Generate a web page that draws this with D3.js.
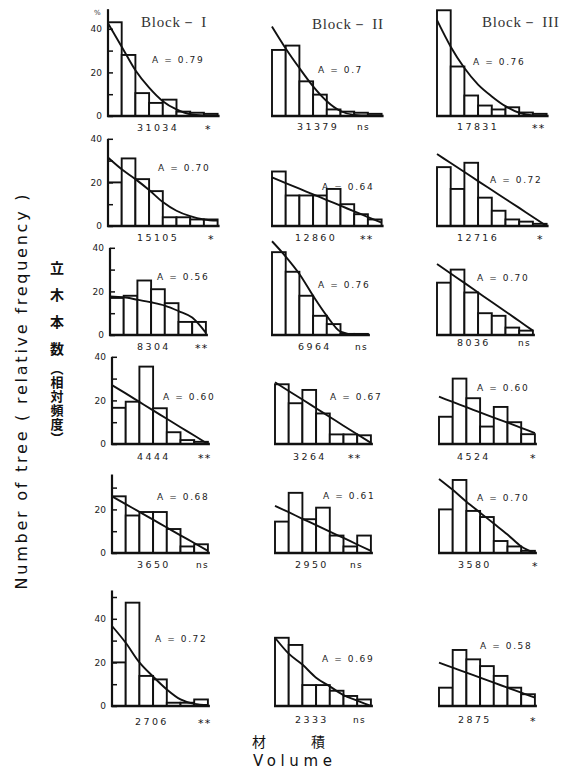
<!DOCTYPE html>
<html>
<head>
<meta charset="utf-8">
<script src="https://cdn.jsdelivr.net/npm/d3@7"></script>
<style>
  html, body { margin: 0; padding: 0; background: #fff; }
  svg { display: block; }
</style>
</head>
<body>
<script>
// ---------------- DATA ----------------
const blockNames = ["Block－ I", "Block－ II", "Block－ III"];

// relative frequency (%) of each volume class, one row per stand (top to bottom)
const freqBlock1 = [
  [43, 28, 10.5, 6, 7.5, 2, 1.5, 1],
  [20, 31, 21.5, 16, 4, 4, 3, 3],
  [17, 18, 25, 21, 14.6, 6, 6],
  [16.6, 19.4, 35.5, 16.4, 5.4, 1.8, 1],
  [26, 17.2, 18.8, 18.8, 11, 3, 4],
  [20, 47.4, 13.8, 12.2, 1.5, 1.5, 3]
];
const freqBlock2 = [
  [30.3, 32.3, 15.9, 9.8, 3, 2, 1.5, 1],
  [25, 14, 14, 14, 17, 10, 5.4, 3],
  [38, 29, 18, 8.8, 5, 0.5, 0.5],
  [27.4, 18.7, 24.8, 14, 4.4, 4.4, 4],
  [14.4, 27.6, 15.5, 20.8, 8, 3, 8],
  [31.3, 28, 9.6, 9.6, 7, 4.6, 3]
];
const freqBlock3 = [
  [48.5, 22.7, 9.4, 4.8, 3, 4, 1.6, 1],
  [27, 17, 29, 13, 7, 3, 2, 1],
  [24, 30, 19.5, 10, 8.8, 3.4, 2],
  [12.5, 30, 21, 8, 17, 10, 4.5],
  [20, 33.5, 19.3, 16.5, 5.5, 3, 1],
  [8.4, 25.7, 21.4, 18.3, 13.8, 8.4, 5.4]
];

// fitted curve values read at the class boundaries
const fitBlock1 = [
  [42.5, 31.8, 21, 13, 6.8, 3, 0.8, 0.3, 0.2],
  [31.4, 26, 21.5, 16.5, 11, 7, 4.5, 3, 2.5],
  [17.7, 17.3, 16.2, 15, 13.5, 11, 8, 1],
  [27, 23.2, 19.3, 15.4, 11.6, 7.7, 3.9, 0],
  [26, 22.4, 18.9, 15.3, 11.7, 8.1, 4.6, 1],
  [36.7, 29, 20, 13.5, 7.6, 3, 1, 0.5]
];
const fitBlock2 = [
  [41, 31, 22, 13.6, 6.8, 2.3, 0.5, 0.2, 0.2],
  [22.3, 19.7, 17.1, 14.5, 11.9, 9.3, 6.7, 4.1, 1.5],
  [43, 36, 28, 18, 8.8, 1.5, 0.2, 0.2],
  [28.3, 24.3, 20.4, 16.4, 12.4, 8.4, 4.5, 0.5],
  [21.6, 18.7, 15.7, 12.8, 9.8, 6.9, 3.9, 1],
  [31.3, 24, 19, 13, 9, 5, 2.5, 0]
];
const fitBlock3 = [
  [44, 31.8, 22, 14.4, 9, 4.5, 1.5, 0.3, 0.2],
  [33, 28.9, 24.8, 20.6, 16.5, 12.4, 8.3, 4.1, 0],
  [32.6, 28.2, 23.9, 19.5, 15.1, 10.8, 6.4, 2],
  [21.7, 19.3, 16.9, 14.5, 12.1, 9.8, 7.4, 5],
  [34, 29, 23.5, 18.5, 13.5, 8.5, 3, 0],
  [19.9, 17.6, 15.3, 13, 10.7, 8.4, 6.1, 3.8]
];

const aBlock1 = ["0.79", "0.70", "0.56", "0.60", "0.68", "0.72"];
const aBlock2 = ["0.7", "0.64", "0.76", "0.67", "0.61", "0.69"];
const aBlock3 = ["0.76", "0.72", "0.70", "0.60", "0.70", "0.58"];

const nBlock1 = ["31034", "15105", "8304", "4444", "3650", "2706"];
const nBlock2 = ["31379", "12860", "6964", "3264", "2950", "2333"];
const nBlock3 = ["17831", "12716", "8036", "4524", "3580", "2875"];

const sigBlock1 = ["*", "*", "**", "**", "ns", "**"];
const sigBlock2 = ["ns", "**", "ns", "**", "ns", "ns"];
const sigBlock3 = ["**", "*", "ns", "*", "*", "*"];

const yTickValues = [0, 10, 20, 30, 40, 50];
const yTickLabels = [0, 20, 40];
const axisTopValue = [49, 40, 40, 40, 36, 53];

const yTitleEn = "Number of tree ( relative frequency )";
const yTitleJa = ["立木本数", "（相対頻度）"];
const xTitleJa = ["材", "積"];
const xTitleEn = "Volume";

// ---------------- LAYOUT ----------------
const W = 570, H = 771;
const rowBase = [116, 226, 335, 444, 553, 706];
const colLeft = [
  [108, 272, 437], [108, 272, 437], [110, 272, 437],
  [112, 275, 439], [112, 275, 439], [112, 275, 439]
];
const binW = 13.7, unitPx = 2.18;
const aPos = [
  [[152, 63], [318, 73], [473, 65]],
  [[158, 171], [322, 190], [490, 183]],
  [[157, 280], [318, 288], [477, 281]],
  [[163, 400], [330, 400], [477, 391]],
  [[157, 500], [323, 499], [477, 501]],
  [[155, 642], [322, 662], [480, 649]]
];
const nPos = [
  [[137, 131], [297, 130], [457, 130]],
  [[137, 241], [295, 241], [457, 241]],
  [[137, 350], [298, 350], [457, 346]],
  [[137, 460], [293, 460], [457, 460]],
  [[137, 568], [295, 568], [458, 568]],
  [[135, 725], [295, 723], [458, 723]]
];
const sigX = [[205, 357, 532], [208, 360, 537], [195, 355, 518], [198, 348, 530], [196, 350, 532], [198, 353, 530]];
const headerPos = [[141, 27], [312, 29], [482, 27]];

const freq = [freqBlock1, freqBlock2, freqBlock3];
const fits = [fitBlock1, fitBlock2, fitBlock3];
const aVals = [aBlock1, aBlock2, aBlock3];
const nVals = [nBlock1, nBlock2, nBlock3];
const sigs = [sigBlock1, sigBlock2, sigBlock3];

const svg = d3.select("body").append("svg").attr("width", W).attr("height", H)
  .style("font-family", "'DejaVu Sans', Arial, sans-serif");

// headers
svg.selectAll("text.hdr").data(blockNames).join("text")
  .attr("class", "hdr")
  .attr("x", (d, i) => headerPos[i][0]).attr("y", (d, i) => headerPos[i][1])
  .attr("font-family", "'Liberation Serif', 'DejaVu Serif', serif")
  .attr("font-size", 15).attr("fill", "#333").attr("letter-spacing", 0.8)
  .text(d => d);

for (let b = 0; b < 3; b++) {
  for (let r = 0; r < 6; r++) {
    const vals = freq[b][r], fit = fits[b][r], n = vals.length;
    const x0 = colLeft[r][b];
    const base = rowBase[r];
    const x = d3.scaleLinear().domain([0, n]).range([x0, x0 + n * binW]);
    const y = d3.scaleLinear().domain([0, 40]).range([base, base - 40 * unitPx]);
    const g = svg.append("g");

    g.selectAll("rect").data(vals).join("rect")
      .attr("x", (d, i) => x(i)).attr("y", d => y(d))
      .attr("width", x(1) - x(0)).attr("height", d => y(0) - y(d))
      .attr("fill", "#fff").attr("stroke", "#111").attr("stroke-width", 1.9);

    g.append("line")
      .attr("x1", x(0) - 1).attr("x2", x(n) + 2).attr("y1", y(0)).attr("y2", y(0))
      .attr("stroke", "#111").attr("stroke-width", 2.4);

    const line = d3.line().x((d, i) => x(i)).y(d => y(d)).curve(d3.curveMonotoneX);
    g.append("path").datum(fit).attr("d", line)
      .attr("fill", "none").attr("stroke", "#111").attr("stroke-width", 1.9);

    if (b === 0) {
      const top = axisTopValue[r];
      const tv = yTickValues.filter(v => v <= top);
      const ax = d3.axisLeft(y).tickValues(tv)
        .tickSizeInner(-5).tickSizeOuter(0).tickPadding(6)
        .tickFormat(d => (yTickLabels.includes(d) && d <= top) ? d : "");
      const ag = g.append("g").attr("transform", `translate(${x0},0)`).call(ax);
      ag.select(".domain").remove();
      ag.selectAll(".tick line").attr("stroke", "#111").attr("stroke-width", 1.5);
      ag.selectAll(".tick text").attr("font-size", 9).attr("fill", "#222")
        .attr("font-family", "'DejaVu Sans', sans-serif");
      g.append("line").attr("x1", x0).attr("x2", x0)
        .attr("y1", y(0) + 1).attr("y2", y(top))
        .attr("stroke", "#111").attr("stroke-width", 2.2);
      if (r === 0) {
        g.append("text").attr("x", x0 - 14).attr("y", y(top) + 6)
          .attr("font-size", 7).attr("fill", "#333").text("%");
      }
    }

    g.append("text").attr("x", aPos[r][b][0]).attr("y", aPos[r][b][1])
      .attr("font-size", 9).attr("letter-spacing", 1.6).attr("fill", "#222")
      .text("A = " + aVals[b][r]);
    g.append("text").attr("x", nPos[r][b][0]).attr("y", nPos[r][b][1])
      .attr("font-size", 9.5).attr("letter-spacing", 2.4).attr("fill", "#222")
      .text(nVals[b][r]);
    const s = sigs[b][r];
    g.append("text").attr("x", sigX[r][b]).attr("y", nPos[r][b][1] + (s === "ns" ? 0 : 2))
      .attr("font-size", s === "ns" ? 9 : 11).attr("letter-spacing", 1.2).attr("fill", "#111")
      .text(s);
  }
}

// y title (English)
svg.append("text")
  .attr("transform", "translate(27,392) rotate(-90)")
  .attr("text-anchor", "middle")
  .attr("font-size", 16).attr("fill", "#111")
  .attr("textLength", 395).attr("lengthAdjust", "spacing")
  .text(yTitleEn);

// y title (Japanese, vertical writing)
svg.append("text")
  .attr("x", 57).attr("y", 261)
  .style("writing-mode", "vertical-rl")
  .attr("font-family", "'Noto Sans CJK JP', sans-serif")
  .attr("font-weight", "bold").attr("font-size", 14)
  .attr("letter-spacing", 13).attr("fill", "#111")
  .text(yTitleJa[0]);
svg.append("text")
  .attr("x", 57).attr("y", 362)
  .style("writing-mode", "vertical-rl")
  .attr("font-family", "'Noto Sans CJK JP', sans-serif")
  .attr("font-weight", "bold").attr("font-size", 13)
  .attr("letter-spacing", 1).attr("fill", "#111")
  .text(yTitleJa[1]);

// x title
svg.selectAll("text.xja").data(xTitleJa).join("text")
  .attr("class", "xja")
  .attr("x", (d, i) => [259, 318][i]).attr("y", 747)
  .attr("text-anchor", "middle")
  .attr("font-family", "'Noto Sans CJK JP', sans-serif")
  .attr("font-size", 14).attr("fill", "#111")
  .text(d => d);
svg.append("text").attr("x", 253).attr("y", 766)
  .attr("font-size", 15).attr("fill", "#111")
  .attr("textLength", 79).attr("lengthAdjust", "spacing")
  .text(xTitleEn);
</script>
</body>
</html>
